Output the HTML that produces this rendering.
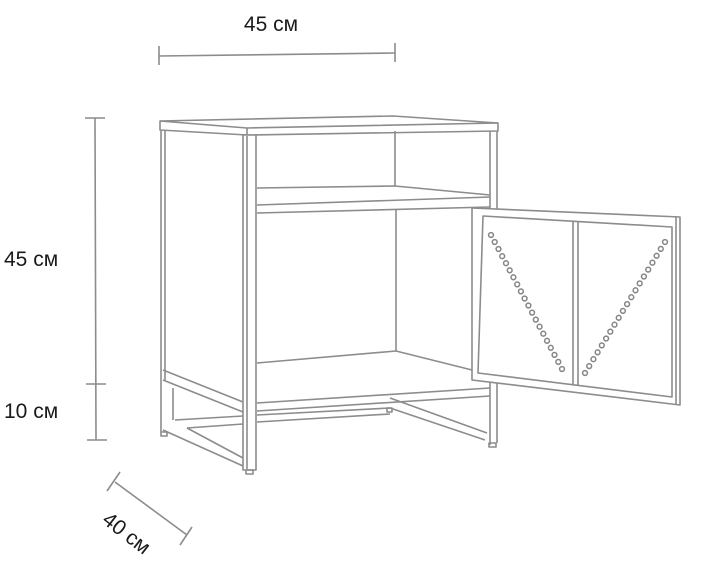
<!DOCTYPE html>
<html><head><meta charset="utf-8"><style>
html,body{margin:0;padding:0;background:#fff;}
svg{display:block}
text{font-family:"Liberation Sans",sans-serif;font-size:21px;fill:#1a1a1a}
</style></head><body>
<svg width="702" height="570" viewBox="0 0 702 570" xmlns="http://www.w3.org/2000/svg">
<g stroke="#8c8c8c" stroke-width="1.6" fill="none" stroke-linejoin="round">
<line x1="159" y1="56" x2="395" y2="53"/>
<line x1="159" y1="46" x2="159" y2="65"/>
<line x1="395" y1="43" x2="395" y2="62"/>
<line x1="95" y1="118" x2="96" y2="440"/>
<line x1="85" y1="118" x2="105" y2="118"/>
<line x1="86" y1="384" x2="106" y2="384"/>
<line x1="87" y1="440" x2="107" y2="440"/>
<line x1="115" y1="482" x2="187" y2="535"/>
<line x1="107" y1="491" x2="120" y2="472"/>
<line x1="180" y1="545" x2="192" y2="527"/>

<polygon points="160,121 393,116 498,123 498,131 247,135 160,130" fill="#fff"/>
<polyline points="160,121 247,128 498,123"/>
<line x1="247" y1="128" x2="247" y2="135"/>

<line x1="161" y1="130" x2="161" y2="382"/>
<line x1="165" y1="131" x2="165" y2="380"/>
<line x1="163" y1="370" x2="243" y2="402"/>
<line x1="395" y1="131" x2="395" y2="186"/>
<line x1="396" y1="210" x2="396" y2="351"/>
<polyline points="257,188 395,186 490,195"/>
<line x1="257" y1="205" x2="490" y2="197"/>
<line x1="257" y1="213" x2="490" y2="207"/>
<polyline points="257,363 396,351 472,370"/>
<line x1="257" y1="403" x2="490" y2="388"/>
<line x1="257" y1="411" x2="490" y2="396"/>
<!-- base frame -->
<line x1="163" y1="380" x2="243" y2="412"/>
<line x1="173" y1="388" x2="173" y2="420"/>
<line x1="175" y1="420" x2="243" y2="416"/>
<line x1="187" y1="428" x2="243" y2="458"/>
<line x1="187" y1="428" x2="243" y2="424"/>
<line x1="163" y1="430" x2="243" y2="466"/>
<line x1="161" y1="382" x2="161" y2="432"/>
<line x1="257" y1="415" x2="390" y2="408"/>
<line x1="257" y1="422" x2="390" y2="414"/>
<line x1="390" y1="398" x2="487" y2="433"/>
<line x1="390" y1="408" x2="485" y2="440"/>
<rect x="161" y="432" width="6" height="4"/>
<rect x="387" y="408" width="5" height="4"/>
<rect x="243" y="135" width="13" height="335" fill="#fff"/>
<line x1="247" y1="136" x2="247" y2="469"/>
<rect x="246" y="470" width="7" height="4"/>
<line x1="490" y1="131" x2="490" y2="445"/>
<line x1="497" y1="131" x2="497" y2="443"/>
<rect x="489" y="443" width="7" height="4"/>

<polygon points="472,208 680,217 680,405 472,380" fill="#fff"/>
<polygon points="483,216 672,227 672,397 478,373"/>
<line x1="676" y1="217" x2="676" y2="404"/>
<line x1="573" y1="221" x2="573" y2="385"/>
<line x1="578" y1="222" x2="578" y2="386"/>
</g>
<g stroke="#858585" stroke-width="1.5" fill="none">
<circle cx="491" cy="235" r="2.4"/><circle cx="494.7" cy="242" r="2.4"/><circle cx="498.5" cy="249" r="2.4"/><circle cx="502.2" cy="256.2" r="2.4"/><circle cx="506" cy="263.2" r="2.4"/><circle cx="509.7" cy="270.3" r="2.4"/><circle cx="513.4" cy="277.3" r="2.4"/><circle cx="517.2" cy="284.4" r="2.4"/><circle cx="520.9" cy="291.4" r="2.4"/><circle cx="524.6" cy="298.5" r="2.4"/><circle cx="528.4" cy="305.5" r="2.4"/><circle cx="532.1" cy="312.6" r="2.4"/><circle cx="535.8" cy="319.6" r="2.4"/><circle cx="539.6" cy="326.7" r="2.4"/><circle cx="543.3" cy="333.7" r="2.4"/><circle cx="547" cy="340.8" r="2.4"/><circle cx="550.8" cy="347.8" r="2.4"/><circle cx="554.5" cy="354.9" r="2.4"/><circle cx="558.3" cy="361.9" r="2.4"/><circle cx="562" cy="369" r="2.4"/>
<circle cx="665" cy="242" r="2.4"/><circle cx="660.8" cy="248.9" r="2.4"/><circle cx="656.6" cy="255.8" r="2.4"/><circle cx="652.4" cy="262.7" r="2.4"/><circle cx="648.2" cy="269.6" r="2.4"/><circle cx="643.9" cy="276.5" r="2.4"/><circle cx="639.7" cy="283.4" r="2.4"/><circle cx="635.5" cy="290.3" r="2.4"/><circle cx="631.3" cy="297.2" r="2.4"/><circle cx="627.1" cy="304.1" r="2.4"/><circle cx="622.9" cy="310.9" r="2.4"/><circle cx="618.7" cy="317.8" r="2.4"/><circle cx="614.5" cy="324.7" r="2.4"/><circle cx="610.3" cy="331.6" r="2.4"/><circle cx="606.1" cy="338.5" r="2.4"/><circle cx="601.8" cy="345.4" r="2.4"/><circle cx="597.6" cy="352.3" r="2.4"/><circle cx="593.4" cy="359.2" r="2.4"/><circle cx="589.2" cy="366.1" r="2.4"/><circle cx="585" cy="373" r="2.4"/>
</g>
<text x="271" y="31" text-anchor="middle">45 см</text>
<text x="4" y="266">45 см</text>
<text x="4" y="418">10 см</text>
<text transform="translate(101,522) rotate(38)" font-size="22">40 см</text>
</svg>
</body></html>
